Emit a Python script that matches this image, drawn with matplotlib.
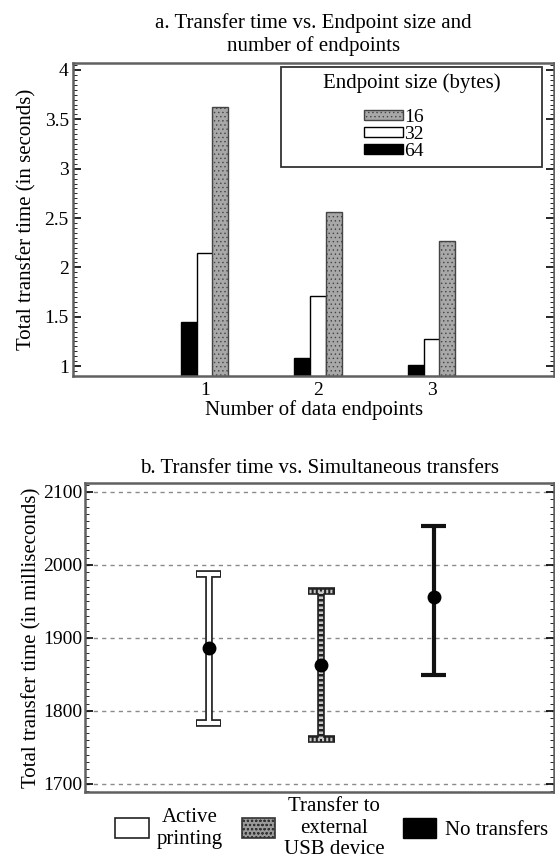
import matplotlib
matplotlib.use("Agg")
import matplotlib.pyplot as plt
from matplotlib.patches import Patch, Rectangle
from matplotlib.ticker import MultipleLocator

plt.rcParams['font.family'] = ['Liberation Serif', 'DejaVu Serif']
plt.rcParams['hatch.linewidth'] = 0.5

# panel a data
endpoints = [1, 2, 3]
t16 = [3.62, 2.56, 2.27]
t32 = [2.15, 1.71, 1.27]
t64 = [1.45, 1.08, 1.01]

# panel b data
conditions = ['Active\nprinting', 'Transfer to\nexternal\nUSB device', 'No transfers']
means = [1886, 1863, 1956]
uppers = [1988, 1964, 2053]
lowers = [1784, 1762, 1849]

fig = plt.figure(figsize=(5.55, 8.65), dpi=100)
spine_col = '#606060'

# ---- a ----
ax = fig.add_axes([0.1315, 0.5653, 0.867, 0.3618])
w = 0.14
b64 = ax.bar([v - 0.142 for v in endpoints], t64, w, color='black', edgecolor='black', lw=1)
b32 = ax.bar(endpoints, t32, w, color='white', edgecolor='black', lw=1)
b16 = ax.bar([v + 0.135 for v in endpoints], t16, w, color='#a8a8a8', edgecolor='#444444',
             lw=1, hatch='....')
ax.set_xlim(-0.165, 4.08)
ax.set_ylim(0.90, 4.07)
ax.set_xticks(endpoints)
ax.set_yticks([1, 1.5, 2, 2.5, 3, 3.5, 4])
ax.set_yticklabels(['1', '1.5', '2', '2.5', '3', '3.5', '4'])
ax.yaxis.set_minor_locator(MultipleLocator(0.05))
ax.tick_params(axis='y', which='both', direction='in', right=True, labelsize=14, pad=3)
ax.tick_params(axis='y', which='major', length=6, width=1.2)
ax.tick_params(axis='y', which='minor', length=3)
ax.tick_params(axis='x', length=0, labelsize=14, pad=4)
ax.set_ylabel('Total transfer time (in seconds)', fontsize=15, labelpad=6)
ax.set_xlabel('Number of data endpoints', fontsize=15, labelpad=1)
ax.set_title('a. Transfer time vs. Endpoint size and\nnumber of endpoints', fontsize=15,
             pad=9, linespacing=1.15)
for s in ax.spines.values():
    s.set_linewidth(1.8)
    s.set_color(spine_col)

# legend frame drawn separately
ax.add_patch(Rectangle((0.432, 0.668), 0.543, 0.319, transform=ax.transAxes,
                       fill=False, edgecolor='#333333', lw=1.3, zorder=5))
ax.text(0.704, 0.936, 'Endpoint size (bytes)', transform=ax.transAxes, ha='center',
        va='center', fontsize=15)
ax.legend([b16, b32, b64], ['16', '32', '64'], loc='center', bbox_to_anchor=(0.667, 0.772),
          frameon=False, fontsize=14, handlelength=2.0, handleheight=0.4,
          handletextpad=0.05, labelspacing=0.0, borderpad=0)

# ---- b ----
bx = fig.add_axes([0.153, 0.0844, 0.845, 0.357])
pos = [1, 2, 3]
cw = 0.11
for i in range(3):
    p, lo, hi = pos[i], lowers[i], uppers[i]
    if i == 0:
        bx.plot([p, p], [lo, hi], color='#222222', lw=5.5, solid_capstyle='butt', zorder=2)
        bx.plot([p, p], [lo, hi], color='white', lw=3, solid_capstyle='butt', zorder=3)
        for yy in (lo, hi):
            bx.plot([p - cw, p + cw], [yy, yy], color='#222222', lw=5.5, solid_capstyle='butt', zorder=2)
            bx.plot([p - cw + 0.01, p + cw - 0.01], [yy, yy], color='white', lw=3,
                    solid_capstyle='butt', zorder=3)
    elif i == 1:
        bx.plot([p, p], [lo, hi], color='#222222', lw=5.5, solid_capstyle='butt', zorder=2)
        bx.plot([p, p], [lo, hi], color='#c8c8c8', lw=3, ls=(0, (0.6, 0.6)), zorder=3)
        for yy in (lo, hi):
            bx.plot([p - cw - 0.01, p + cw + 0.01], [yy, yy], color='#222222', lw=5.5,
                    solid_capstyle='butt', zorder=2)
            bx.plot([p - cw, p + cw], [yy, yy], color='#c8c8c8', lw=2.5, ls=(0, (0.6, 0.6)), zorder=3)
    else:
        bx.plot([p, p], [lo, hi], color='#111111', lw=3, solid_capstyle='butt', zorder=2)
        for yy in (lo, hi):
            bx.plot([p - cw, p + cw], [yy, yy], color='#111111', lw=3, solid_capstyle='butt', zorder=2)
bx.plot(pos, means, 'o', color='black', ms=9, zorder=4)
bx.set_xlim(-0.10, 4.07)
bx.set_ylim(1689, 2112)
bx.set_xticks([])
bx.set_yticks([1700, 1800, 1900, 2000, 2100])
bx.yaxis.set_minor_locator(MultipleLocator(10))
bx.tick_params(axis='y', which='both', direction='in', right=True, labelsize=14, pad=2)
bx.tick_params(axis='y', which='major', length=6, width=1.2)
bx.tick_params(axis='y', which='minor', length=3)
bx.grid(axis='y', ls=(0, (3, 3)), color='#8a8a8a', lw=1)
bx.set_axisbelow(True)
bx.set_ylabel('Total transfer time (in milliseconds)', fontsize=15, labelpad=1)
bx.set_title('b. Transfer time vs. Simultaneous transfers', fontsize=15, pad=7)
for s in bx.spines.values():
    s.set_linewidth(1.8)
    s.set_color(spine_col)
handles = [Patch(facecolor='white', edgecolor='#222222', lw=1.2),
           Patch(facecolor='#9a9a9a', edgecolor='#333333', hatch='oooo', lw=1.2),
           Patch(facecolor='black', edgecolor='black')]
leg = bx.legend(handles, conditions, loc='upper center', bbox_to_anchor=(0.526, 0.018), ncol=3,
                frameon=False, fontsize=15, handlelength=1.6, handleheight=1.1,
                columnspacing=0.9, handletextpad=0.4, borderpad=0)
for t in leg.get_texts():
    t.set_multialignment('center')
    t.set_linespacing(1.2)

fig.savefig('out.png', dpi=100)
